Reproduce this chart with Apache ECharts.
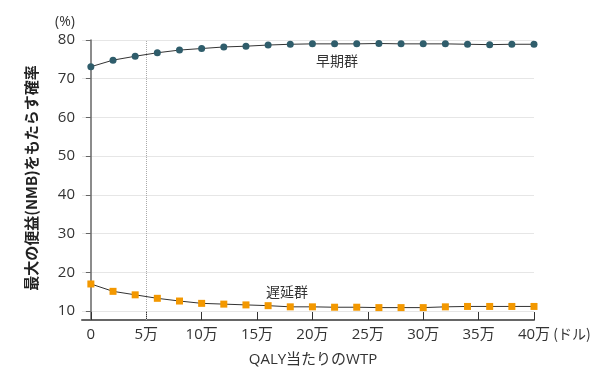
<!DOCTYPE html>
<html><head><meta charset="utf-8">
<script src="https://cdn.jsdelivr.net/npm/echarts@6/dist/echarts.min.js"></script>
<style>html,body{margin:0;padding:0;background:#fff}#c{width:610px;height:385px}</style>
</head><body><div id="c"></div>
<script>
const wtp = [0,2,4,6,8,10,12,14,16,18,20,22,24,26,28,30,32,34,36,38,40];
const earlyGroup = [73.1,74.8,75.8,76.7,77.4,77.8,78.2,78.4,78.7,78.9,79.0,79.0,79.0,79.1,79.0,79.0,79.0,78.9,78.8,78.9,78.9];
const lateGroup = [17.0,15.1,14.2,13.3,12.6,12.0,11.8,11.6,11.4,11.1,11.1,11.0,11.0,10.9,10.9,10.9,11.1,11.2,11.2,11.2,11.2];
const xTickValues = [0,5,10,15,20,25,30,35,40];
const xTickLabels = ['0','5万','10万','15万','20万','25万','30万','35万','40万'];
const yTickValues = [10,20,30,40,50,60,70,80];
const seriesNames = ['早期群','遅延群'];

const font = '"Noto Sans CJK JP", "Noto Sans", sans-serif';
const numFont = '"Open Sans", "Noto Sans CJK JP", sans-serif';
const chart = echarts.init(document.getElementById('c'), null, {renderer:'canvas'});
function txt(t,x,y,size,f){
  return {type:'text',x:x,y:y,style:{text:t,font:size+'px '+(f||font),fill:'#333',align:'center',verticalAlign:'middle'}};
}
chart.setOption({
  animation:false,
  backgroundColor:'#fff',
  grid:{left:82,right:76,top:40,bottom:65},
  xAxis:{
    type:'value', min:-0.8, max:40,
    axisLine:{show:true,lineStyle:{color:'#666',width:2}},
    axisTick:{show:true,inside:true,length:8,customValues:xTickValues,lineStyle:{color:'#333',width:1}},
    axisLabel:{customValues:xTickValues,color:'#333',fontSize:15,fontFamily:numFont,margin:7,
      formatter:function(v){const i=xTickValues.indexOf(v);return i>=0?xTickLabels[i]:'';}},
    splitLine:{show:false}
  },
  yAxis:{
    type:'value', min:7.7, max:80,
    axisLine:{show:true,lineStyle:{color:'#666',width:1.5}},
    axisTick:{show:true,inside:false,length:5,customValues:yTickValues,lineStyle:{color:'#666'}},
    axisLabel:{customValues:yTickValues,color:'#333',fontSize:15,fontFamily:numFont,margin:7},
    splitLine:{show:true,lineStyle:{color:'#e6e6e6',width:1}}
  },
  series:[
    {name:seriesNames[0],type:'line',data:wtp.map((x,i)=>[x,earlyGroup[i]]),
     symbol:'circle',symbolSize:7,itemStyle:{color:'#2f5d6b'},
     lineStyle:{color:'#333',width:1},
     markLine:{silent:true,symbol:'none',label:{show:false},
       lineStyle:{color:'#aaa',type:'dotted',width:1},data:[{xAxis:5}]}},
    {name:seriesNames[1],type:'line',data:wtp.map((x,i)=>[x,lateGroup[i]]),
     symbol:'rect',symbolSize:7,itemStyle:{color:'#f39800'},
     lineStyle:{color:'#333',width:1}}
  ],
  graphic:[
    txt(seriesNames[0],337,61,14),
    txt(seriesNames[1],287,292,14),
    txt('(%)',65,22,14,numFont),
    txt('(ドル)',572,334,14),
    txt('QALY当たりのWTP',313,360,15,numFont),
    {type:'text',x:31,y:178,rotation:Math.PI/2,
     style:{text:'最大の便益(NMB)をもたらす確率',font:'bold 15px '+font,fill:'#222',align:'center',verticalAlign:'middle'}}
  ]
});
</script></body></html>
